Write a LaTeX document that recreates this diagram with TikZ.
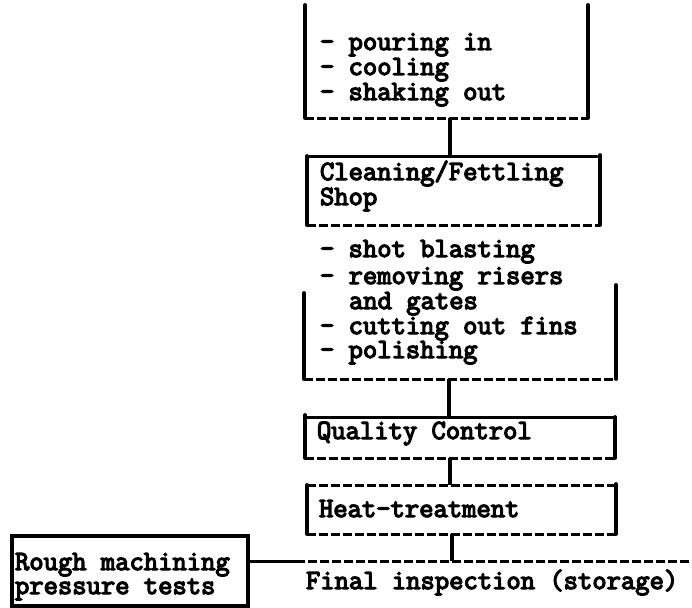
\documentclass[tikz,border=0pt]{standalone}
\usepackage{fontspec}
\setmonofont{Latin Modern Mono}[AutoFakeBold=4.5]
\tikzset{
  txt/.style={anchor=base west,inner sep=0pt,outer sep=0pt,text height=16pt,text depth=4pt,font=\ttfamily\bfseries\fontsize{27.8}{25}\selectfont},
  bar/.style={line width=3.8pt,line cap=round},
  solidedge/.style={line width=3pt,line cap=round},
  dashedge/.style={line width=3pt,dash pattern=on 9pt off 3pt},
  conn/.style={line width=3.8pt},
}
\begin{document}
\begin{tikzpicture}[x=1pt,y=-1pt]
\useasboundingbox (0,0) rectangle (692,607);
% box 1
\draw[bar] (305,5) -- (305,118);
\draw[bar] (588,5) -- (588,118);
\draw[dashedge] (305,118) -- (588,118);
\node[txt] (t1) at (320,50) {- pouring in};
\node[txt] (t2) at (320,75) {- cooling};
\node[txt] (t3) at (320,100) {- shaking out};
\coordinate (b1s) at (450,118);
% box 2
\draw[solidedge] (307,156) -- (597,156);
\draw[bar] (307,156) -- (307,225);
\draw[bar] (600,155) -- (600,225);
\draw[dashedge] (307,225) -- (600,225);
\node[txt] (t4) at (320,180) {Cleaning/Fettling};
\node[txt] (t5) at (320,205) {Shop};
\coordinate (b2n) at (450,156);
\coordinate (b2s) at (450,225);
% list / box 3
\node[txt] (t6) at (320,257) {- shot blasting};
\node[txt] (t7) at (320,284) {- removing risers};
\node[txt] (t8) at (349,309) {and gates};
\node[txt] (t9) at (320,334) {- cutting out fins};
\node[txt] (t10) at (320,358) {- polishing};
\draw[bar] (304,293) -- (304,379);
\draw[bar] (616,285) -- (616,379);
\draw[dashedge] (304,379) -- (616,379);
\coordinate (b3s) at (449,379);
% box 4
\draw[solidedge] (305,417) -- (615,417);
\draw[bar] (305,415) -- (305,458);
\draw[bar] (615,417) -- (615,458);
\draw[dashedge] (305,458) -- (615,458);
\node[txt] (t11) at (317,439) {Quality Control};
\coordinate (b4n) at (449,417);
\coordinate (b4s) at (450,458);
% box 5
\draw[dashedge] (307,485) -- (616,485);
\draw[bar] (307,485) -- (307,534);
\draw[bar] (616,484) -- (616,534);
\draw[dashedge] (307,534) -- (616,534);
\node[txt] (t12) at (319,517) {Heat-treatment};
\coordinate (b5n) at (450,485);
\coordinate (b5s) at (452,534);
% bottom line
\coordinate (hl) at (248,561);
\coordinate (hm) at (296,561);
\coordinate (hj) at (452,561);
\coordinate (hr) at (692,561);
\draw[solidedge] (hl) -- (hm);
\draw[dashedge] (hm) -- (hr);
% rough machining box
\draw[line width=3.8pt] (12,536) rectangle (248,606);
\node[txt] (t13) at (15,570) {Rough machining};
\node[txt] (t14) at (15,594) {pressure tests};
\node[txt] (t15) at (306,589) {Final inspection (storage)};
% connectors
\draw[conn] (b1s) -- (b2n);
\draw[conn] (b3s) -- (b4n);
\draw[conn] (b4s) -- (b5n);
\draw[conn] (b5s) -- (hj);
\end{tikzpicture}
\end{document}
